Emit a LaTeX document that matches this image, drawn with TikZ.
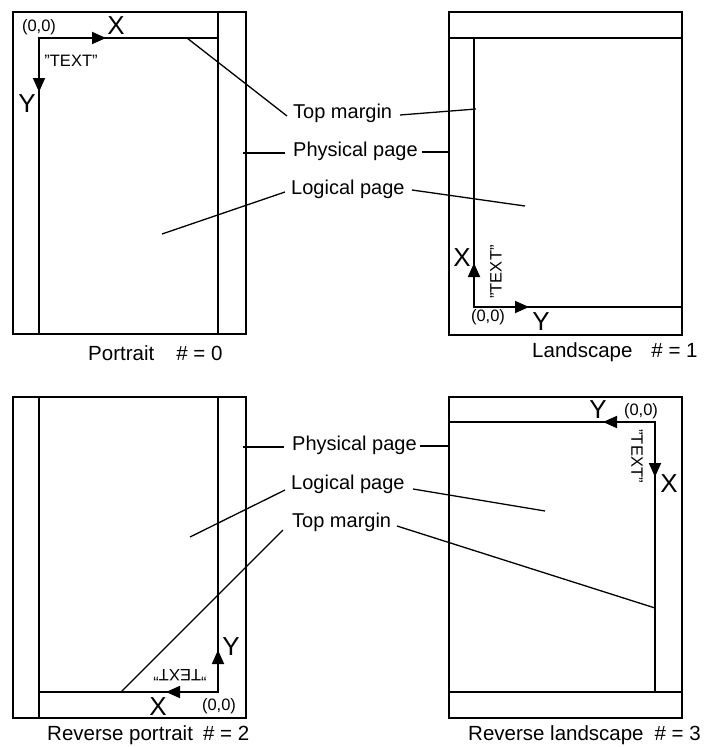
\documentclass[tikz,border=0pt]{standalone}
\usepackage{fontspec}
\setmainfont{Liberation Sans}
\usetikzlibrary{arrows.meta}
\tikzset{
  box/.style={line width=1.8pt, line cap=rect},
  leader/.style={line width=1.3pt},
  axis/.style={line width=1.8pt, -{Triangle[length=14pt,width=12pt]}},
  lbl/.style={inner sep=0pt, anchor=west, font=\fontsize{20}{22}\selectfont},
  captionlbl/.style={inner sep=0pt, anchor=west, font=\fontsize{20.5}{22}\selectfont},
  small/.style={inner sep=0pt, font=\fontsize{16.5}{18}\selectfont},
  big/.style={inner sep=0pt, font=\fontsize{26}{28}\selectfont},
}
\begin{document}
\begin{tikzpicture}[x=1pt,y=-1pt]
\useasboundingbox (0,0) rectangle (722,747);

% ---------- Portrait ----------
\draw[box] (13,12) rectangle (246,334);
\draw[box] (218,12) -- (218,334);
\draw[box] (39,334) -- (39,38) -- (218,38);
\coordinate (p0o) at (39,38);
\coordinate (p0x) at (106,38);
\coordinate (p0y) at (39,92);
\draw[axis] (p0o) -- (p0x);
\draw[axis] (p0o) -- (p0y);
\node[small] (p0orig) at (39,27.5) {(0,0)};
\node[big] (p0X) at (116,26) {X};
\node[big] (p0Y) at (27,104) {Y};
\node[small] (p0T) at (71,60.5) {"TEXT"};
\node[captionlbl] (p0lab) at (88,353) {Portrait\hspace{22pt}\# = 0};

% ---------- Landscape ----------
\draw[box] (449,12) rectangle (682,335);
\draw[box] (449,38) -- (682,38);
\draw[box] (474,38) -- (474,307) -- (682,307);
\coordinate (p1o) at (474,307);
\coordinate (p1x) at (474,263);
\coordinate (p1y) at (529,307);
\draw[axis] (p1o) -- (p1x);
\draw[axis] (p1o) -- (p1y);
\node[big] (p1X) at (462,258) {X};
\node[big] (p1Y) at (541,322) {Y};
\node[small] (p1orig) at (488,317) {(0,0)};
\node[small, rotate=90] (p1T) at (496,272) {"TEXT"};
\node[captionlbl] (p1lab) at (532,352.5) {Landscape\hspace{19pt}\# = 1};

% ---------- top middle labels ----------
\node[lbl] (tm1) at (293,113.5) {Top margin};
\node[lbl] (pp1) at (293,151.5) {Physical page};
\node[lbl] (lp1) at (291,189.5) {Logical page};
\coordinate (tm1a) at (187,38);
\coordinate (tm1b) at (287,116);
\coordinate (tm1c) at (400,115);
\coordinate (tm1d) at (476,109);
\coordinate (pp1a) at (243,153);
\coordinate (pp1b) at (285,153);
\coordinate (pp1c) at (422,152);
\coordinate (pp1d) at (449,152);
\coordinate (lp1a) at (162,234);
\coordinate (lp1b) at (285,192);
\coordinate (lp1c) at (412,190);
\coordinate (lp1d) at (525,206);
\draw[leader] (tm1a) -- (tm1b);
\draw[leader] (tm1c) -- (tm1d);
\draw[leader] (pp1a) -- (pp1b);
\draw[leader] (pp1c) -- (pp1d);
\draw[leader] (lp1a) -- (lp1b);
\draw[leader] (lp1c) -- (lp1d);

% ---------- Reverse portrait ----------
\draw[box] (13,397) rectangle (246,718);
\draw[box] (39,397) -- (39,718);
\draw[box] (39,692) -- (218,692) -- (218,397);
\coordinate (p2o) at (218,692);
\coordinate (p2x) at (166,692);
\coordinate (p2y) at (218,650);
\draw[axis] (p2o) -- (p2x);
\draw[axis] (p2o) -- (p2y);
\node[big] (p2Y) at (231,647) {Y};
\node[big] (p2X) at (158,707) {X};
\node[small] (p2orig) at (219,706) {(0,0)};
\node[small, rotate=180] (p2T) at (180,675) {"TEXT"};
\node[captionlbl] (p2lab) at (47,735) {Reverse portrait\hspace{10pt}\# = 2};

% ---------- Reverse landscape ----------
\draw[box] (449,397) rectangle (682,718);
\draw[box] (449,692) -- (682,692);
\draw[box] (449,422) -- (655,422) -- (655,692);
\coordinate (p3o) at (655,422);
\coordinate (p3y) at (603,422);
\coordinate (p3x) at (655,477);
\draw[axis] (p3o) -- (p3y);
\draw[axis] (p3o) -- (p3x);
\node[big] (p3Y) at (598,410) {Y};
\node[small] (p3orig) at (641,411) {(0,0)};
\node[small, rotate=-90] (p3T) at (637,456) {"TEXT"};
\node[big] (p3X) at (669,484) {X};
\node[captionlbl] (p3lab) at (468,735) {Reverse landscape\hspace{11pt}\# = 3};

% ---------- bottom middle labels ----------
\node[lbl] (pp2) at (292,445.5) {Physical page};
\node[lbl] (lp2) at (291,484.5) {Logical page};
\node[lbl] (tm2) at (292,522) {Top margin};
\coordinate (pp2a) at (243,447);
\coordinate (pp2b) at (284,447);
\coordinate (pp2c) at (420,446);
\coordinate (pp2d) at (449,446);
\coordinate (lp2a) at (190,537);
\coordinate (lp2b) at (285,490);
\coordinate (lp2c) at (413,489);
\coordinate (lp2d) at (545,511);
\coordinate (tm2a) at (121,692);
\coordinate (tm2b) at (283,530);
\coordinate (tm2c) at (397,526);
\coordinate (tm2d) at (655,608);
\draw[leader] (pp2a) -- (pp2b);
\draw[leader] (pp2c) -- (pp2d);
\draw[leader] (lp2a) -- (lp2b);
\draw[leader] (lp2c) -- (lp2d);
\draw[leader] (tm2a) -- (tm2b);
\draw[leader] (tm2c) -- (tm2d);
\end{tikzpicture}
\end{document}
